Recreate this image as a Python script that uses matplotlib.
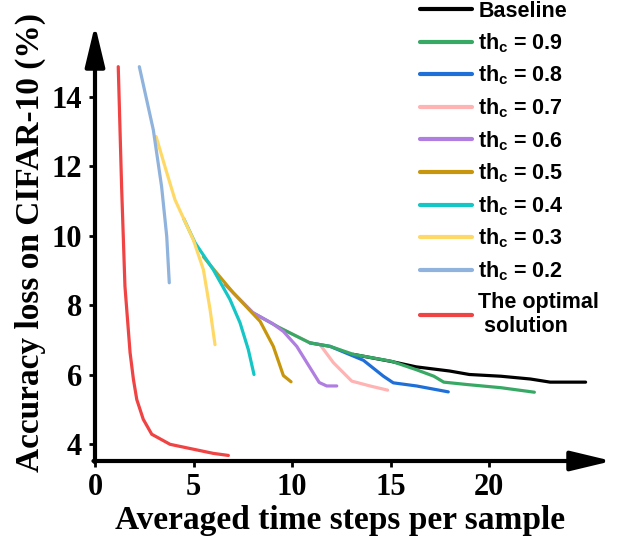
import matplotlib
matplotlib.use('Agg')
import matplotlib.pyplot as plt

# data (x: averaged time steps, y: accuracy loss %)
base_x = [13.1, 15.0, 16.3, 18.0, 19.0, 20.6, 22.1, 23.1, 24.9]
base_y = [6.59, 6.39, 6.23, 6.11, 6.01, 5.96, 5.88, 5.79, 5.79]

th09_x = [8.04, 9.39, 10.91, 11.93, 13.11, 15.05, 16.3, 17.2, 17.7, 18.9, 20.6, 22.3]
th09_y = [7.78, 7.35, 6.92, 6.82, 6.59, 6.39, 6.15, 5.96, 5.79, 5.72, 5.63, 5.50]

th08_x = [10.9, 11.93, 13.62, 14.64, 15.14, 16.32, 17.93]
th08_y = [6.92, 6.82, 6.42, 5.96, 5.77, 5.68, 5.51]

th07_x = [9.39, 10.91, 11.42, 12.1, 13.03, 13.96, 14.85]
th07_y = [7.35, 6.92, 6.87, 6.35, 5.82, 5.68, 5.56]

th06_x = [6.6, 7.02, 8.04, 9.0, 9.56, 10.24, 11.38, 11.76, 12.27]
th06_y = [8.6, 8.36, 7.78, 7.48, 7.25, 6.82, 5.78, 5.68, 5.68]

th05_x = [5.5, 6.18, 7.02, 8.38, 9.05, 9.56, 9.95]
th05_y = [9.4, 8.93, 8.36, 7.54, 6.82, 5.98, 5.80]

th04_x = [4.5, 5.08, 6.0, 6.85, 7.36, 7.78, 8.07]
th04_y = [10.5, 9.80, 9.03, 8.17, 7.50, 6.73, 6.01]

th03_x = [3.10, 3.6, 4.06, 4.99, 5.5, 5.84, 6.09]
th03_y = [12.86, 11.9, 11.04, 9.89, 9.03, 7.88, 6.87]

th02_x = [2.25, 2.96, 3.38, 3.64, 3.77]
th02_y = [14.87, 13.05, 11.42, 9.99, 8.65]

opt_x = [1.18, 1.35, 1.52, 1.78, 1.95, 2.12, 2.45, 2.88, 3.81, 4.99, 6.0, 6.77]
opt_y = [14.87, 11.42, 8.55, 6.64, 5.87, 5.29, 4.72, 4.29, 4.0, 3.86, 3.74, 3.68]

labels = ['Baseline',
          r'th$_\mathregular{c}$ = 0.9', r'th$_\mathregular{c}$ = 0.8',
          r'th$_\mathregular{c}$ = 0.7', r'th$_\mathregular{c}$ = 0.6',
          r'th$_\mathregular{c}$ = 0.5', r'th$_\mathregular{c}$ = 0.4',
          r'th$_\mathregular{c}$ = 0.3', r'th$_\mathregular{c}$ = 0.2',
          'The optimal\n solution']
colors = ['#000000', '#38a865', '#1f6fd8', '#ffb3b3', '#b07ee0',
          '#c8960c', '#14c6c6', '#ffd966', '#8fb3dc', '#f04343']

series = [(base_x, base_y), (th09_x, th09_y), (th08_x, th08_y), (th07_x, th07_y),
          (th06_x, th06_y), (th05_x, th05_y), (th04_x, th04_y), (th03_x, th03_y),
          (th02_x, th02_y), (opt_x, opt_y)]

# draw order so the shared trunk shows the right colour
order = [0, 3, 2, 1, 4, 5, 6, 7, 8, 9]

serif = 'Liberation Serif'

fig = plt.figure(figsize=(6.22, 5.44), dpi=100)
ax = fig.add_axes([95 / 622, 83 / 544, 517 / 622, 436 / 544])

handles = {}
for i in order:
    xs, ys = series[i]
    ln, = ax.plot(xs, ys, color=colors[i], lw=2.3, solid_capstyle='round',
                  label=labels[i])
    handles[i] = ln

ax.set_xlim(0, 26.24)
ax.set_ylim(3.52, 16.07)
ax.set_xticks([0, 5, 10, 15, 20])
ax.set_yticks([4, 6, 8, 10, 12, 14])
for s in ax.spines.values():
    s.set_visible(False)
ax.tick_params(direction='out', length=4.5, width=2, pad=4, labelsize=22)
ax.tick_params(axis='y', pad=5)
for t in ax.get_xticklabels() + ax.get_yticklabels():
    t.set_fontfamily(serif)
    t.set_fontweight('bold')

# axis arrows
arrow = dict(arrowstyle='-|>,head_length=1.25,head_width=0.3', lw=3, color='black',
             mutation_scale=20, shrinkA=0, shrinkB=0)
ax.annotate('', xy=(0, 1), xytext=(0, -0.003), xycoords='axes fraction', arrowprops=arrow)
ax.annotate('', xy=(1, 0), xytext=(-0.003, 0), xycoords='axes fraction', arrowprops=arrow)

ax.set_xlabel('Averaged time steps per sample', fontfamily=serif, fontweight='bold', fontsize=24)
ax.set_ylabel('Accuracy loss on CIFAR-10 (%)', fontfamily=serif, fontweight='bold', fontsize=24)
ax.xaxis.set_label_coords(0.474, -0.102)
ax.yaxis.set_label_coords(-0.094, 0.5)

leg = fig.legend([handles[i] for i in range(10)], labels, loc='upper left',
                 bbox_to_anchor=(420 / 622, 1 - 1 / 544), frameon=False,
                 prop={'family': 'Liberation Sans', 'weight': 'bold', 'size': 15.5},
                 handlelength=2.4, handletextpad=0.3, labelspacing=0.42,
                 borderpad=0, borderaxespad=0)
for h in leg.legend_handles:
    h.set_linewidth(3)

fig.savefig('out.png', dpi=100)
